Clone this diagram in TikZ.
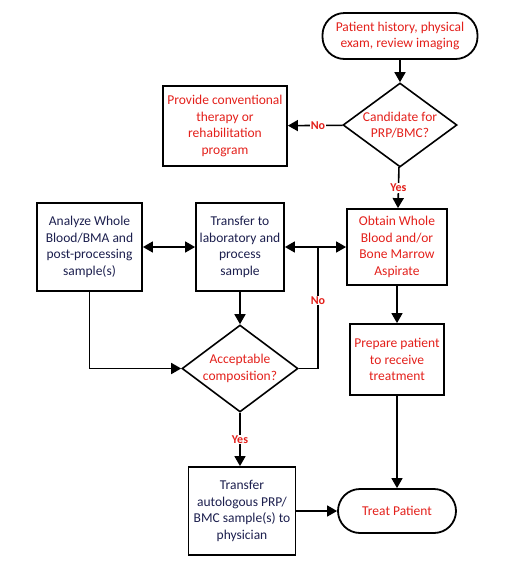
\documentclass[tikz,border=0pt]{standalone}
\usepackage{fontspec}
\setmainfont{Carlito}
\usetikzlibrary{shapes.geometric,arrows.meta}
\definecolor{txtred}{HTML}{E3201B}
\definecolor{txtnavy}{HTML}{1C1F4E}
\begin{document}
\begin{tikzpicture}[x=1pt,y=-1pt,
  every node/.style={font=\fontsize{13.5}{16.5}\selectfont, align=center, inner sep=0pt},
  proc/.style={rectangle, draw, line width=1.8pt},
  term/.style={rectangle, draw, line width=1.8pt, rounded corners=22pt},
  dec/.style={diamond, draw, line width=1.6pt, inner sep=-8pt},
  red/.style={text=txtred},
  navy/.style={text=txtnavy},
  conn/.style={line width=1.6pt, -{Triangle[length=10pt,width=11pt]}},
  dconn/.style={line width=1.6pt, {Triangle[length=10pt,width=11pt]}-{Triangle[length=10pt,width=11pt]}},
  plain/.style={line width=1.6pt},
  lbl/.style={font=\fontsize{12}{14}\selectfont\bfseries, text=txtred, fill=white, inner sep=1pt}]
\useasboundingbox (0,0) rectangle (530,571);
\node[term, red, minimum width=155pt, minimum height=46pt] (top) at (400,36) {Patient history, physical\\exam, review imaging};
\node[dec, red, minimum width=114pt, minimum height=84pt] (d1) at (400,125) {Candidate for\\PRP/BMC?};
\node[proc, red, minimum width=124pt, minimum height=80pt] (conv) at (225,126) {Provide conventional\\therapy or\\rehabilitation\\program};
\node[proc, red, minimum width=100pt, minimum height=76pt] (obtain) at (397,247) {Obtain Whole\\Blood and/or\\Bone Marrow\\Aspirate};
\node[proc, red, minimum width=94pt, minimum height=71pt] (prep) at (397,359.5) {Prepare patient\\to receive\\treatment};
\node[term, red, minimum width=118pt, minimum height=44pt] (treat) at (397,511) {Treat Patient};
\node[proc, navy, minimum width=105pt, minimum height=88pt] (analyze) at (89.5,247) {Analyze Whole\\Blood/BMA and\\post-processing\\sample(s)};
\node[proc, navy, minimum width=88pt, minimum height=88pt] (transfer) at (240,247) {Transfer to\\laboratory and\\process\\sample};
\node[dec, red, minimum width=116pt, minimum height=87pt] (d2) at (240,368.5) {Acceptable\\composition?};
\node[proc, navy, minimum width=107pt, minimum height=88pt] (autol) at (242,511) {Transfer\\autologous PRP/\\BMC sample(s) to\\physician};
\coordinate (j) at (318,247);
\draw[conn] (top) -- (d1);
\draw[conn] (d1) -- node[lbl, pos=0.45] {No} (conv);
\draw[conn] (d1) -- node[lbl, pos=0.5] {Yes} (obtain);
\draw[dconn] (analyze) -- (transfer);
\draw[dconn] (transfer) -- (obtain);
\draw[conn] (transfer) -- (d2);
\draw[conn] (analyze.south) |- (d2.west);
\draw[plain] (d2.east) -| node[lbl, pos=0.78] {No} (j);
\draw[conn] (d2.south) -- node[lbl, pos=0.5] {Yes} (d2.south |- autol.north);
\draw[conn] (obtain) -- (prep);
\draw[conn] (prep) -- (treat);
\draw[conn] (autol) -- (treat);
\end{tikzpicture}
\end{document}
